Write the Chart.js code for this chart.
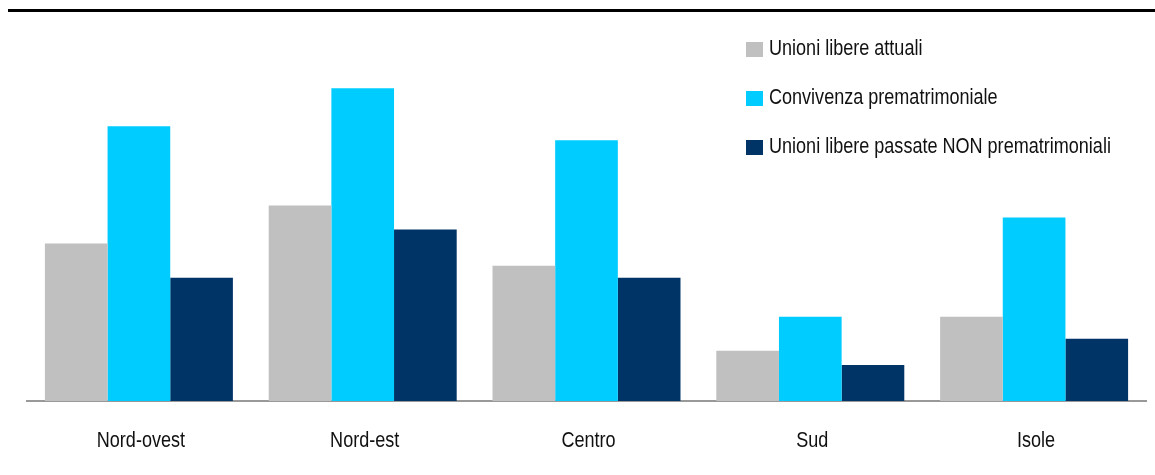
<!DOCTYPE html>
<html>
<head>
<meta charset="utf-8">
<script src="https://cdn.jsdelivr.net/npm/chart.js@4"></script>
<style>
  html, body { margin: 0; padding: 0; background: #fff; }
  #grafico { display: block; }
</style>
</head>
<body>
<canvas id="grafico" width="1155" height="475"></canvas>
<script>
const ripartizioni = ['Nord-ovest', 'Nord-est', 'Centro', 'Sud', 'Isole'];
const unioniAttuali = [15.7, 19.5, 13.5, 5.0, 8.4];
const convivenzaPrematrimoniale = [27.4, 31.2, 26.0, 8.4, 18.3];
const unioniPassateNonPrem = [12.3, 17.1, 12.3, 3.6, 6.2];

const FONT = "'Liberation Sans Narrow', 'Arial Narrow', 'Liberation Sans', Arial, sans-serif";
const STRETTO = 0.82; // testo compresso in orizzontale, tipo Arial Narrow

// scrive un testo compresso in orizzontale
const testoStretto = (c, testo, x, y, align) => {
    c.save();
    c.translate(x, y);
    c.scale(STRETTO, 1);
    c.textAlign = align;
    c.fillText(testo, 0, 0);
    c.restore();
};

// riga nera in alto, etichette delle ripartizioni e legenda a destra
const cornice = {
    id: 'cornice',
    afterDraw(chart) {
        const c = chart.ctx;
        c.save();
        c.fillStyle = '#000';
        c.fillRect(8, 9, 1147, 3);

        c.font = '22px ' + FONT;
        c.textBaseline = 'alphabetic';

        const asseX = chart.scales.x;
        c.fillStyle = '#111';
        chart.data.labels.forEach((lab, i) => {
            testoStretto(c, lab, asseX.getPixelForValue(i) + 2, 447, 'center');
        });

        chart.data.datasets.forEach((ds, i) => {
            const y = 42 + i * 49;
            c.fillStyle = ds.backgroundColor;
            c.fillRect(746, y, 17, 15);
            c.fillStyle = '#111';
            testoStretto(c, ds.label, 769, y + 13, 'left');
        });
        c.restore();
    }
};

new Chart(document.getElementById('grafico'), {
    type: 'bar',
    data: {
        labels: ripartizioni,
        datasets: [
            { label: 'Unioni libere attuali', data: unioniAttuali, backgroundColor: '#c0c0c0' },
            { label: 'Convivenza prematrimoniale', data: convivenzaPrematrimoniale, backgroundColor: '#00ccff' },
            { label: 'Unioni libere passate NON prematrimoniali', data: unioniPassateNonPrem, backgroundColor: '#003366' }
        ]
    },
    options: {
        responsive: false,
        animation: false,
        categoryPercentage: 0.84,
        barPercentage: 1.0,
        layout: { padding: { left: 27, right: 9, top: 10, bottom: 66 } },
        plugins: {
            legend: { display: false },
            tooltip: { enabled: false }
        },
        scales: {
            x: {
                grid: { display: false },
                border: { display: true, color: '#999', width: 2 },
                ticks: { display: false }
            },
            y: {
                display: false,
                min: 0,
                max: 39
            }
        }
    },
    plugins: [cornice]
});
</script>
</body>
</html>
